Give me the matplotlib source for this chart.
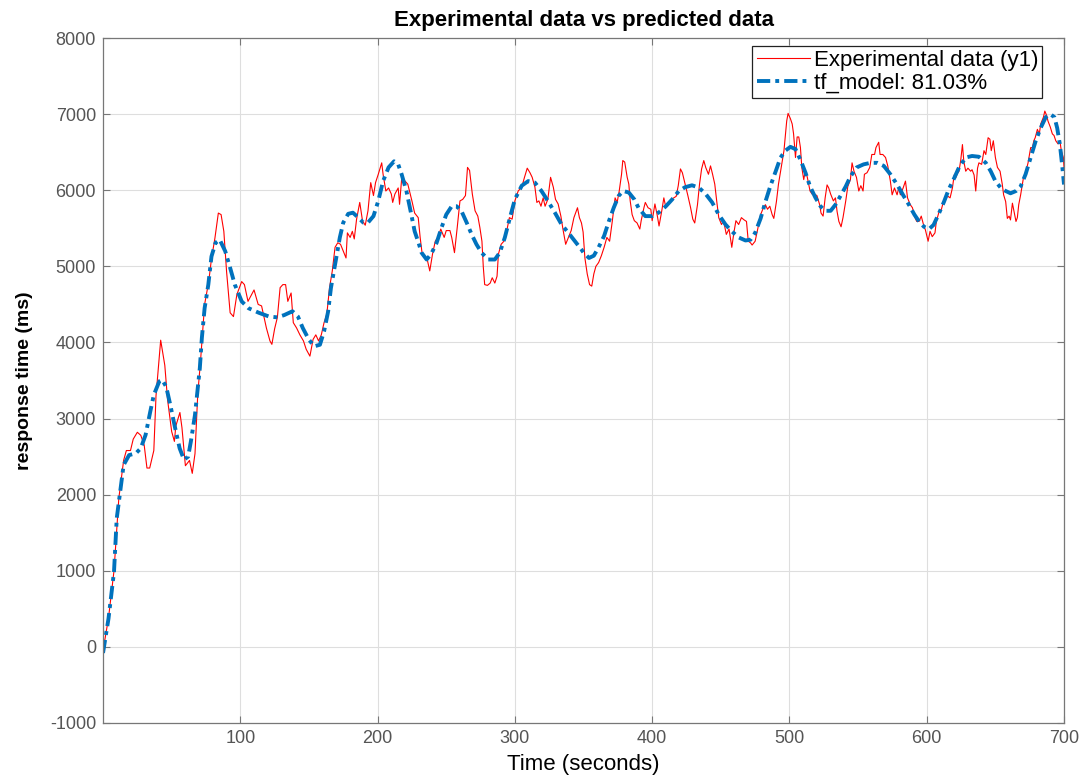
import matplotlib
matplotlib.use('Agg')
import matplotlib.pyplot as plt

plt.rcParams['font.family'] = ['Liberation Sans', 'DejaVu Sans']
plt.rcParams['axes.unicode_minus'] = False

exp_time = [0, 4, 8, 11.5, 15, 17, 20, 22, 25, 27.5, 30, 32, 34, 37, 38.6, 42, 45, 47, 50, 52,
            53, 56, 57.5, 60, 63, 65, 67, 69, 71, 73, 74, 77, 79, 81.5, 84, 86, 88, 90, 92.6, 95,
            97.5, 101, 103, 105.6, 110, 113, 115.5, 119, 121.6, 123, 125, 127, 129, 131, 133, 134.6, 137, 138.6, 141, 143.4,
            146, 148, 150.7, 153, 155, 157, 159, 161, 163, 165, 167, 169, 171, 173, 175, 177, 178, 180, 181.6, 183,
            184.7, 187, 189, 191, 193, 195, 197, 198.5, 200.5, 203, 204, 206, 208, 210, 211, 212.6, 215, 216, 217.5, 220,
            222, 225, 227, 229.6, 231, 232.5, 234.5, 236.4, 238, 240, 242, 244, 246, 248.5, 250, 252.7, 254, 256, 258, 260,
            262, 264, 265.5, 267, 269, 271, 273, 274.5, 276, 277, 278, 280, 282, 283.5, 285.4, 287, 288, 290, 292, 294,
            296, 298, 300, 302.4, 305, 307, 309, 311, 312.6, 314.6, 316, 317.5, 319, 320.6, 322, 324, 326, 328, 329.6, 331.5,
            333.5, 335, 337, 339, 341, 343, 345.6, 347, 348.5, 349.7, 351, 352.7, 354.4, 356, 357.5, 359, 361, 363, 365, 367,
            369, 371, 373, 374.5, 376, 377.7, 378.6, 380, 381.8, 383, 384, 385.4, 387, 389, 391, 392, 394, 395, 397, 399,
            400, 402, 403.6, 405, 407, 408.5, 410, 412, 414, 415.8, 417.5, 419, 420.6, 422, 424, 426, 428, 429.6, 431, 433,
            434.5, 436, 437.6, 439, 441, 442.5, 444, 445.6, 447, 448.5, 450.5, 452, 454, 456, 458, 459.5, 461, 463, 465, 467,
            468.7, 470, 471.6, 472.8, 475, 477, 479, 481, 482.5, 484, 485.7, 487.4, 488.6, 490.5, 492, 494, 496, 498, 499, 500.7,
            502, 503, 504.4, 505.6, 506.8, 508, 509, 510.4, 511.6, 513, 515, 516.5, 518, 520, 522, 523, 524.5, 526, 527.4, 528.6,
            530, 532, 533.5, 534.7, 536, 537.6, 539, 541, 542.5, 544.4, 545.6, 547, 548.8, 550.5, 552, 553.6, 554.6, 556.5, 558.5, 560,
            562, 563, 565, 566, 568, 570, 571.6, 573.5, 574.8, 576.5, 578.4, 579.6, 580.8, 582.8, 584.5, 586, 588, 589.6, 591, 592.7,
            594.4, 596, 597.6, 599, 601, 602.4, 604, 606, 607, 609, 610.7, 612, 613.8, 615.5, 617, 618.7, 620, 621, 622.3, 623.5,
            624.8, 626, 627, 628.4, 630, 632, 633, 634.5, 635.7, 637, 638, 640, 641.7, 643, 644.7, 646, 647, 648.5, 650, 651.5,
            653.4, 655, 656, 657.5, 658.7, 660, 661, 662.4, 663.6, 665, 666, 667, 668.4, 670.4, 672, 673.8, 675.7, 677, 678, 679,
            680.6, 682, 683, 685, 686, 687.4, 688.3, 690, 691.5, 692.7, 694, 695.6, 697, 698, 699.5, 700]
exp_resp = [-50, 380, 1000, 1950, 2450, 2580, 2580, 2730, 2820, 2780, 2650, 2350, 2350, 2580, 3300, 4030, 3700, 3250, 2830, 2700,
            2900, 3080, 2880, 2380, 2450, 2280, 2540, 3320, 3750, 4250, 4500, 4800, 5100, 5370, 5700, 5680, 5460, 4930, 4390, 4340,
            4630, 4800, 4760, 4540, 4690, 4500, 4480, 4190, 4020, 3975, 4180, 4330, 4720, 4760, 4760, 4540, 4650, 4260, 4190, 4100,
            4020, 3910, 3820, 4040, 4100, 4020, 4100, 4260, 4370, 4720, 4940, 5250, 5310, 5290, 5200, 5110, 5440, 5380, 5460, 5360,
            5620, 5840, 5600, 5540, 5730, 6100, 5930, 6100, 6210, 6360, 6210, 5990, 6030, 5950, 5840, 5950, 6030, 5815, 6145, 6120,
            6080, 5860, 5700, 5640, 5380, 5160, 5110, 5070, 4940, 5160, 5330, 5380, 5490, 5380, 5470, 5470, 5380, 5180, 5510, 5860,
            5880, 5930, 6300, 6260, 5950, 5730, 5660, 5510, 5330, 4990, 4760, 4750, 4780, 4850, 4780, 4870, 5160, 5290, 5330, 5460,
            5640, 5620, 5860, 5990, 6040, 6170, 6290, 6230, 6170, 6040, 5840, 5860, 5790, 5900, 5790, 5880, 6170, 6040, 5880, 5820,
            5660, 5490, 5290, 5380, 5470, 5640, 5770, 5640, 5570, 5450, 5110, 4900, 4760, 4740, 4900, 5000, 5050, 5140, 5250, 5380,
            5330, 5600, 5900, 5840, 5990, 6210, 6390, 6370, 6170, 6080, 5860, 5680, 5600, 5570, 5490, 5600, 5770, 5840, 5770, 5750,
            5600, 5820, 5680, 5530, 5730, 5900, 5770, 5840, 5880, 5900, 5920, 6060, 6280, 6230, 6080, 5930, 5770, 5620, 5570, 5810,
            6080, 6280, 6390, 6300, 6210, 6320, 6210, 6080, 5860, 5640, 5550, 5600, 5420, 5490, 5250, 5440, 5600, 5550, 5640, 5610,
            5590, 5330, 5310, 5280, 5330, 5500, 5680, 5770, 5810, 5750, 5790, 5680, 5630, 5850, 6080, 6300, 6520, 6910, 7010, 6940,
            6870, 6740, 6430, 6700, 6700, 6560, 6300, 6140, 6260, 6170, 5990, 5950, 5950, 5930, 5810, 5700, 5660, 5900, 6070, 6030,
            5950, 5860, 5900, 5720, 5590, 5520, 5640, 5860, 6050, 6140, 6360, 6250, 6170, 5990, 6060, 5990, 6210, 6230, 6300, 6470,
            6470, 6560, 6630, 6470, 6470, 6430, 6320, 6120, 5940, 6030, 5940, 6030, 5940, 6030, 6120, 5900, 5810, 5770, 5660, 5590,
            5590, 5660, 5550, 5480, 5330, 5460, 5390, 5440, 5590, 5720, 5750, 5840, 5900, 5920, 5900, 6030, 6200, 6160, 6220, 6250,
            6400, 6600, 6380, 6250, 6290, 6250, 6270, 6200, 5990, 6290, 6360, 6340, 6520, 6470, 6690, 6670, 6520, 6650, 6430, 6300,
            6250, 6080, 5940, 5850, 5630, 5660, 5610, 5830, 5720, 5590, 5640, 5810, 5940, 6160, 6230, 6360, 6560, 6560, 6650, 6690,
            6800, 6740, 6870, 6960, 7040, 6980, 6910, 6830, 6740, 6720, 6650, 6610, 6650, 6520, 6430, 6300]

# tf_model simulated output
model_time = [0, 4, 8, 10, 12.8, 15, 19, 24, 27.5, 31, 34.4, 37, 41, 43, 46, 49, 52, 55.8, 59, 62,
              64, 67, 69, 70.5, 72, 74, 76.7, 79, 82, 85, 89, 92.6, 96, 101, 106, 113.5, 121, 127, 132, 138,
              142, 145.5, 150, 154, 158, 161, 164, 166, 169, 172.5, 175, 178.6, 182, 186, 189.6, 193, 197, 200.5, 204, 208,
              212, 215, 217.5, 221, 224, 227, 230, 232, 235.7, 239, 243, 246.6, 250, 254, 257.5, 261, 265, 268.5, 272, 275.7,
              280.6, 285.4, 289, 292.7, 296.4, 300, 305, 309.7, 314.6, 319.4, 324, 329, 334, 339, 343.7, 348.5, 350, 354, 357.5, 361,
              365, 368.6, 372, 375.7, 379, 383, 387, 390, 395, 400, 405, 410, 414.6, 419.4, 424, 429, 434, 439, 443.7, 448.5,
              453.4, 458, 463, 468, 471.6, 475, 479, 482.5, 486, 490, 493.5, 497, 500.7, 504.4, 508, 511.7, 515, 519, 522.6, 526,
              530, 533.5, 537, 541, 544.4, 549, 554, 559, 564, 568.7, 573.5, 578.4, 583, 587, 591, 594.4, 598, 601.7, 605, 609,
              612.6, 616, 620, 623.5, 628.4, 633, 638, 643, 646.6, 650, 654, 657.5, 661, 665, 668.4, 672, 675.7, 679.4, 683, 686.7,
              690, 693, 695, 697, 698.8, 700]
model_resp = [-80, 373, 987, 1690, 2083, 2390, 2520, 2544, 2610, 2785, 3090, 3310, 3490, 3510, 3420, 3180, 2920, 2610, 2460, 2500,
              2700, 3050, 3400, 3660, 4060, 4450, 4760, 5130, 5310, 5350, 5200, 4980, 4760, 4540, 4450, 4390, 4340, 4330, 4360, 4410,
              4340, 4190, 4035, 3950, 3970, 4145, 4410, 4715, 5020, 5380, 5575, 5690, 5705, 5640, 5575, 5575, 5660, 5860, 6120, 6300,
              6380, 6340, 6210, 5990, 5730, 5460, 5300, 5180, 5090, 5160, 5310, 5510, 5680, 5790, 5790, 5730, 5570, 5420, 5290, 5180,
              5090, 5090, 5180, 5380, 5640, 5880, 6060, 6120, 6100, 5990, 5860, 5710, 5550, 5440, 5330, 5220, 5180, 5110, 5140, 5250,
              5400, 5600, 5770, 5930, 5990, 5970, 5880, 5770, 5660, 5660, 5710, 5790, 5880, 5990, 6040, 6065, 6035, 5950, 5840, 5680,
              5550, 5460, 5380, 5340, 5350, 5440, 5630, 5850, 6050, 6250, 6430, 6520, 6570, 6540, 6400, 6230, 6050, 5900, 5790, 5730,
              5730, 5810, 5920, 6050, 6180, 6300, 6340, 6360, 6360, 6320, 6210, 6075, 5930, 5810, 5680, 5590, 5520, 5490, 5545, 5700,
              5850, 6010, 6160, 6300, 6430, 6450, 6440, 6360, 6250, 6120, 6030, 5990, 5960, 5990, 6050, 6210, 6430, 6650, 6820, 6960,
              7000, 6960, 6820, 6600, 6300, 6075]

x_ticks = [100, 200, 300, 400, 500, 600, 700]
y_ticks = [-1000, 0, 1000, 2000, 3000, 4000, 5000, 6000, 7000, 8000]

fig = plt.figure(figsize=(10.81, 7.76), dpi=100)
ax = fig.add_axes([0.0953, 0.0683, 0.8890, 0.8827])

ax.plot(exp_time, exp_resp, color='#ff0000', linewidth=0.8, label='Experimental data (y1)')
ax.plot(model_time, model_resp, color='#0072bd', linewidth=2.8,
        linestyle=(0, (3.4, 1.3, 1, 1.3)), label='tf_model: 81.03%')

ax.set_xlim(0, 700)
ax.set_ylim(-1000, 8000)
ax.set_xticks(x_ticks)
ax.set_yticks(y_ticks)

ax.grid(True, color='#dedede', linewidth=0.8)
ax.set_axisbelow(True)
for s in ax.spines.values():
    s.set_color('#777777')
    s.set_linewidth(0.9)
ax.tick_params(direction='in', length=5, width=0.8, color='#777777',
               labelcolor='#555555', labelsize=13, top=True, right=True, pad=5)

ax.set_title('Experimental data vs predicted data', fontsize=16, fontweight='bold', pad=9)
ax.set_xlabel('Time (seconds)', fontsize=16, labelpad=5)
ax.set_ylabel('response time (ms)', fontsize=14, fontweight='bold', labelpad=12)

leg = ax.legend(loc='upper right', bbox_to_anchor=(0.9845, 0.9985), fontsize=16, fancybox=False,
                framealpha=1, edgecolor='#222222', borderpad=0.2, handlelength=2.4,
                handletextpad=0.15, labelspacing=0.08, borderaxespad=0.3)
leg.get_frame().set_linewidth(0.9)

fig.savefig('out.png', dpi=100)
